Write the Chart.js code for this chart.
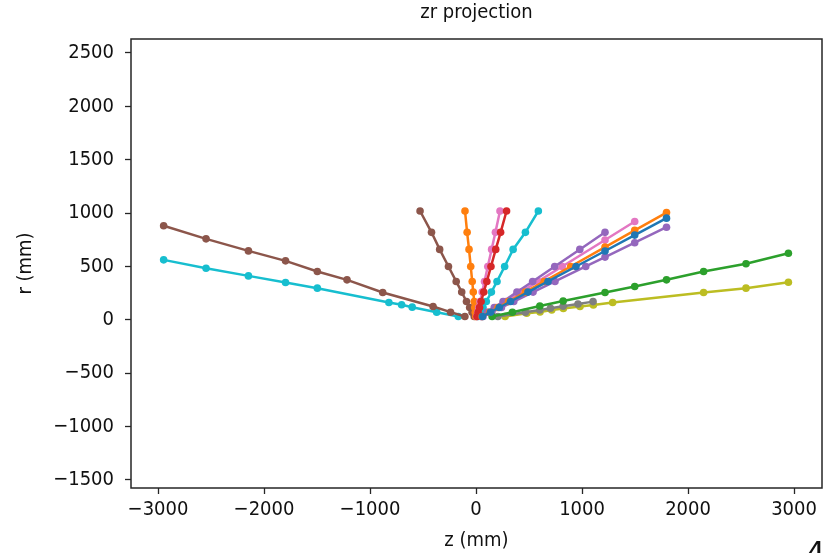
<!DOCTYPE html>
<html>
<head>
<meta charset="utf-8">
<script src="https://cdn.jsdelivr.net/npm/chart.js@4/dist/chart.umd.min.js"></script>
<style>
  html, body { margin: 0; padding: 0; background: #fff; }
  #wrap { width: 834px; height: 553px; }
</style>
</head>
<body>
<div id="wrap"><canvas id="chart" width="834" height="553"></canvas></div>
<script>
// tick labels
const zTicks = [-3000, -2000, -1000, 0, 1000, 2000, 3000];
const rTicks = [-1500, -1000, -500, 0, 500, 1000, 1500, 2000, 2500];

// hits per track, [z, r] in mm
const blueFan = [[60, 32], [136, 72], [219, 116], [325, 172], [490, 260], [679, 360], [943, 500], [1217, 645], [1497, 794], [1797, 953]];
const orangeFan = [[57, 32], [129, 72], [207, 116], [307, 172], [465, 260], [643, 360], [893, 500], [1217, 681], [1497, 838], [1797, 1005]];
const greenLong = [[152, 32], [343, 72], [602, 130], [822, 177], [1217, 256], [1497, 312], [1797, 375], [2147, 453], [2547, 525], [2947, 624]];
const redSteep = [[9, 32], [20, 72], [33, 116], [48, 172], [73, 260], [102, 360], [141, 500], [186, 660], [232, 820], [288, 1020]];
const purpleLow = [[66, 32], [149, 72], [240, 116], [356, 172], [538, 260], [745, 360], [1035, 500], [1217, 588], [1497, 723], [1797, 868]];
const brownFar = [[-105, 32], [-240, 72], [-405, 125], [-880, 256], [-1217, 375], [-1497, 453], [-1797, 553], [-2147, 646], [-2547, 759], [-2947, 881]];
const pinkSteep = [[7, 32], [16, 72], [26, 116], [38, 172], [58, 260], [80, 360], [111, 500], [147, 660], [183, 820], [226, 1020]];
const grayShort = [[206, 32], [465, 72], [602, 93], [702, 109], [822, 127], [962, 149], [1104, 171]];
const oliveLong = [[274, 31], [478, 62], [604, 74], [714, 92], [824, 107], [981, 125], [1107, 140], [1289, 162], [2147, 256], [2547, 297], [2947, 353]];
const cyanFar = [[-167, 32], [-371, 72], [-602, 119], [-702, 141], [-822, 162], [-1497, 297], [-1797, 350], [-2147, 412], [-2547, 484], [-2947, 562]];
const orangeSteep = [[-3, 32], [-7, 72], [-12, 116], [-17, 172], [-26, 260], [-36, 360], [-50, 500], [-66, 660], [-84, 820], [-104, 1020]];
const purpleHigh = [[47, 32], [107, 72], [172, 116], [255, 172], [386, 260], [534, 360], [742, 500], [979, 660], [1217, 820]];
const brownSteep = [[-17, 32], [-37, 72], [-60, 116], [-90, 172], [-135, 260], [-187, 360], [-260, 500], [-343, 660], [-420, 820], [-528, 1020]];
const pinkFan = [[52, 32], [117, 72], [189, 116], [280, 172], [423, 260], [585, 360], [813, 500], [1217, 748], [1497, 921]];
const cyanSteep = [[18, 32], [41, 72], [66, 116], [97, 172], [145, 260], [198, 360], [270, 500], [350, 660], [466, 820], [588, 1020]];

const tracks = [
    {hits: blueFan, color: '#1f77b4'},
    {hits: orangeFan, color: '#ff7f0e'},
    {hits: greenLong, color: '#2ca02c'},
    {hits: redSteep, color: '#d62728'},
    {hits: purpleLow, color: '#9467bd'},
    {hits: brownFar, color: '#8c564b'},
    {hits: pinkSteep, color: '#e377c2'},
    {hits: grayShort, color: '#7f7f7f'},
    {hits: oliveLong, color: '#bcbd22'},
    {hits: cyanFar, color: '#17becf'},
    {hits: orangeSteep, color: '#ff7f0e'},
    {hits: purpleHigh, color: '#9467bd'},
    {hits: brownSteep, color: '#8c564b'},
    {hits: pinkFan, color: '#e377c2'},
    {hits: cyanSteep, color: '#17becf'}
];

const FONT = "'DejaVu Sans Condensed', 'DejaVu Sans', sans-serif";
const INK = '#262626';

const fmt = v => v < 0 ? '\u2212' + Math.abs(v) : String(v);

// axes frame, title over the plot area, and the clipped "4" at the bottom right
const framePlugin = {
    id: 'frame',
    afterDraw(chart) {
        const {ctx, chartArea: a} = chart;
        ctx.save();
        ctx.strokeStyle = INK;
        ctx.lineWidth = 1.5;
        ctx.strokeRect(a.left, a.top, a.right - a.left, a.bottom - a.top);
        ctx.fillStyle = '#111';
        ctx.font = `20px ${FONT}`;
        ctx.textAlign = 'center';
        ctx.textBaseline = 'middle';
        ctx.fillText('zr projection', (a.left + a.right) / 2, 13);
        ctx.font = "30px 'DejaVu Sans', sans-serif";
        ctx.textAlign = 'left';
        ctx.textBaseline = 'alphabetic';
        ctx.fillText('4', 806, 563);
        ctx.restore();
    }
};

new Chart(document.getElementById('chart'), {
    type: 'scatter',
    data: {
        datasets: tracks.map(t => ({
            data: t.hits.map(([z, r]) => ({x: z, y: r})),
            showLine: true,
            borderColor: t.color,
            backgroundColor: t.color,
            borderWidth: 2.5,
            pointRadius: 3.8,
            pointBorderWidth: 0,
            pointHoverRadius: 3.8
        }))
    },
    options: {
        responsive: false,
        animation: false,
        events: [],
        layout: {padding: {left: 0, right: 12, top: 39, bottom: 0}},
        plugins: {
            legend: {display: false},
            tooltip: {enabled: false},
            title: {display: false}
        },
        scales: {
            x: {
                type: 'linear',
                min: -3255,
                max: 3264,
                afterBuildTicks: s => { s.ticks = zTicks.map(v => ({value: v})); },
                afterFit: s => { s.height = 65; },
                grid: {drawOnChartArea: false, drawTicks: true, tickLength: 6, tickColor: INK, tickWidth: 1.3},
                border: {display: false},
                ticks: {color: '#111', font: {family: FONT, size: 20}, padding: 4, maxRotation: 0, callback: fmt},
                title: {display: true, text: 'z (mm)', color: '#111', font: {family: FONT, size: 20}, padding: {top: 0, bottom: 0}}
            },
            y: {
                type: 'linear',
                min: -1575,
                max: 2631,
                afterBuildTicks: s => { s.ticks = rTicks.map(v => ({value: v})); },
                afterFit: s => { s.width = 131; },
                grid: {drawOnChartArea: false, drawTicks: true, tickLength: 6, tickColor: INK, tickWidth: 1.3},
                border: {display: false},
                ticks: {color: '#111', font: {family: FONT, size: 20}, padding: 11, callback: fmt},
                title: {display: true, text: 'r (mm)', color: '#111', font: {family: FONT, size: 20}, padding: {top: 14, bottom: 0}}
            }
        }
    },
    plugins: [framePlugin]
});
</script>
</body>
</html>
